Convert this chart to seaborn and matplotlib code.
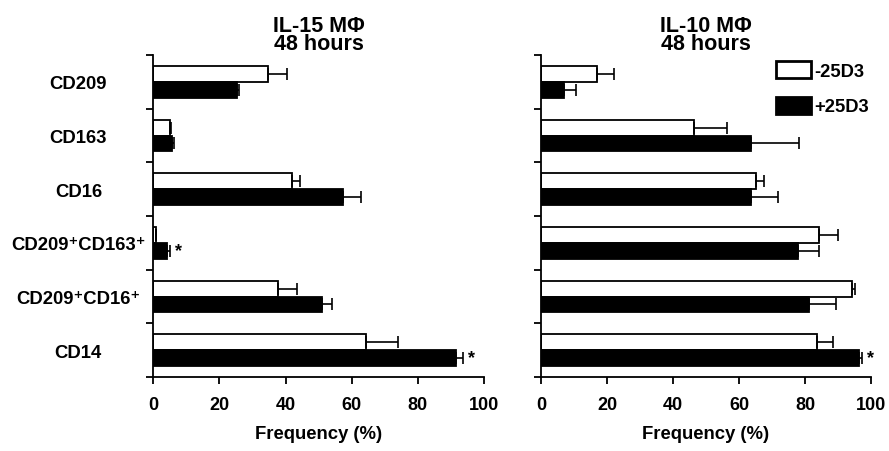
import matplotlib
matplotlib.use("Agg")
import matplotlib.pyplot as plt
import seaborn as sns
import pandas as pd
import numpy as np
from matplotlib.patches import Patch
from matplotlib.container import BarContainer

categories = ["CD209", "CD163", "CD16", "CD209\u207aCD163\u207a", "CD209\u207aCD16\u207a", "CD14"]
treatments = ["-25D3", "+25D3"]

il15_minus = [34.7, 5.0, 42.0, 0.8, 37.8, 64.3]
il15_minus_err = [5.6, 0.3, 2.2, 0.0, 5.6, 9.8]
il15_plus = [25.2, 5.5, 57.2, 4.2, 51.0, 91.5]
il15_plus_err = [0.8, 0.7, 5.6, 0.8, 3.0, 2.0]
il15_sig = [False, False, False, True, False, True]

il10_minus = [17.1, 46.5, 65.1, 84.2, 94.3, 83.7]
il10_minus_err = [5.0, 9.9, 2.5, 5.9, 0.7, 4.7]
il10_plus = [6.9, 63.5, 63.5, 77.9, 81.3, 96.5]
il10_plus_err = [3.6, 14.7, 8.3, 6.2, 8.0, 0.7]
il10_sig = [False, False, False, False, False, True]

titles = ["IL-15 M\u03a6\n48 hours", "IL-10 M\u03a6\n48 hours"]
xticks = [0, 20, 40, 60, 80, 100]
xlabel = "Frequency (%)"

sns.set_theme(style="ticks")
plt.rcParams['font.family'] = ['Liberation Sans', 'DejaVu Sans']
plt.rcParams['font.weight'] = 'bold'
for key in ['text.color', 'axes.labelcolor', 'xtick.color', 'ytick.color',
            'xtick.labelcolor', 'ytick.labelcolor', 'axes.edgecolor']:
    plt.rcParams[key] = 'black'

fig = plt.figure(figsize=(8.89, 4.52), dpi=100)
ax1 = fig.add_axes([0.1725, 0.1637, 0.372, 0.7123])
ax2 = fig.add_axes([0.6086, 0.1637, 0.3712, 0.7123])

panels = [
    (ax1, il15_minus, il15_minus_err, il15_plus, il15_plus_err, il15_sig, titles[0], True),
    (ax2, il10_minus, il10_minus_err, il10_plus, il10_plus_err, il10_sig, titles[1], False),
]

fs_tick = 13
fs_cat = 13.3
fs_lab = 13.3
fs_title = 15.5
for ax, vm, em, vp, ep, sig, title, show_labels in panels:
    df = pd.DataFrame({
        "category": categories * 2,
        "value": vm + vp,
        "treatment": [treatments[0]] * len(categories) + [treatments[1]] * len(categories),
    })
    sns.barplot(data=df, y="category", x="value", hue="treatment", order=categories,
                hue_order=treatments, palette=["white", "black"], edgecolor="black",
                linewidth=1.3, width=0.59, gap=0, orient="h", ax=ax, legend=False,
                errorbar=None)
    errs = [em, ep]
    vals = [vm, vp]
    bar_conts = [c for c in ax.containers if isinstance(c, BarContainer)]
    for k, cont in enumerate(bar_conts):
        ys = [p.get_y() + p.get_height() / 2 for p in cont.patches]
        xs = vals[k]
        ax.errorbar(xs, ys, xerr=[np.zeros(len(xs)), errs[k]], fmt="none",
                    ecolor="black", elinewidth=1.2, capsize=4.3, capthick=1.2, zorder=1)
        if k == 1:
            for x, y, e, s in zip(xs, ys, errs[k], sig):
                if s:
                    ax.text(x + e + 1.5, y, "*", ha="left", va="center",
                            fontsize=fs_tick, fontweight="bold", color="black")
    ax.set_xlim(0, 100)
    ax.set_ylim(len(categories) - 0.5, -0.5)
    ax.set_xticks(xticks)
    ax.set_xticklabels([str(t) for t in xticks], fontsize=fs_tick, fontweight="bold")
    ax.set_xlabel(xlabel, fontsize=fs_lab, fontweight="bold", labelpad=9, color="black")
    ax.set_ylabel("")
    ax.set_yticks(range(len(categories)))
    if show_labels:
        ax.set_yticklabels(categories, fontsize=fs_cat, fontweight="bold", ha="center")
        ax.tick_params(axis="y", which="major", length=0, pad=54)
    else:
        ax.set_yticklabels([])
        ax.tick_params(axis="y", which="major", length=0)
    ax.set_yticks(np.arange(-0.5, len(categories) + 0.5, 1), minor=True)
    ax.tick_params(axis="y", which="minor", length=5, width=1.3, color="black")
    ax.tick_params(axis="x", which="major", length=5, width=1.3, color="black", pad=8.5)
    ax.tick_params(axis="both", labelcolor="black")
    for sp in ["top", "right"]:
        ax.spines[sp].set_visible(False)
    for sp in ["left", "bottom"]:
        ax.spines[sp].set_linewidth(1.3)
        ax.spines[sp].set_color("black")
    ax.set_title(title, fontsize=fs_title, fontweight="bold", pad=4.5, linespacing=0.82,
                 color="black")

handles = [Patch(facecolor="white", edgecolor="black", linewidth=2.0),
           Patch(facecolor="black", edgecolor="black", linewidth=2.0)]
leg = ax2.legend(handles, treatments, loc="upper left", bbox_to_anchor=(0.711, 0.98),
                 frameon=False, handlelength=1.9, handleheight=1.04, labelspacing=0.9,
                 handletextpad=0.2, borderaxespad=0, borderpad=0,
                 prop={"size": 13.2, "weight": "bold"})
for t in leg.get_texts():
    t.set_color("black")

fig.savefig("out.png", dpi=100)
